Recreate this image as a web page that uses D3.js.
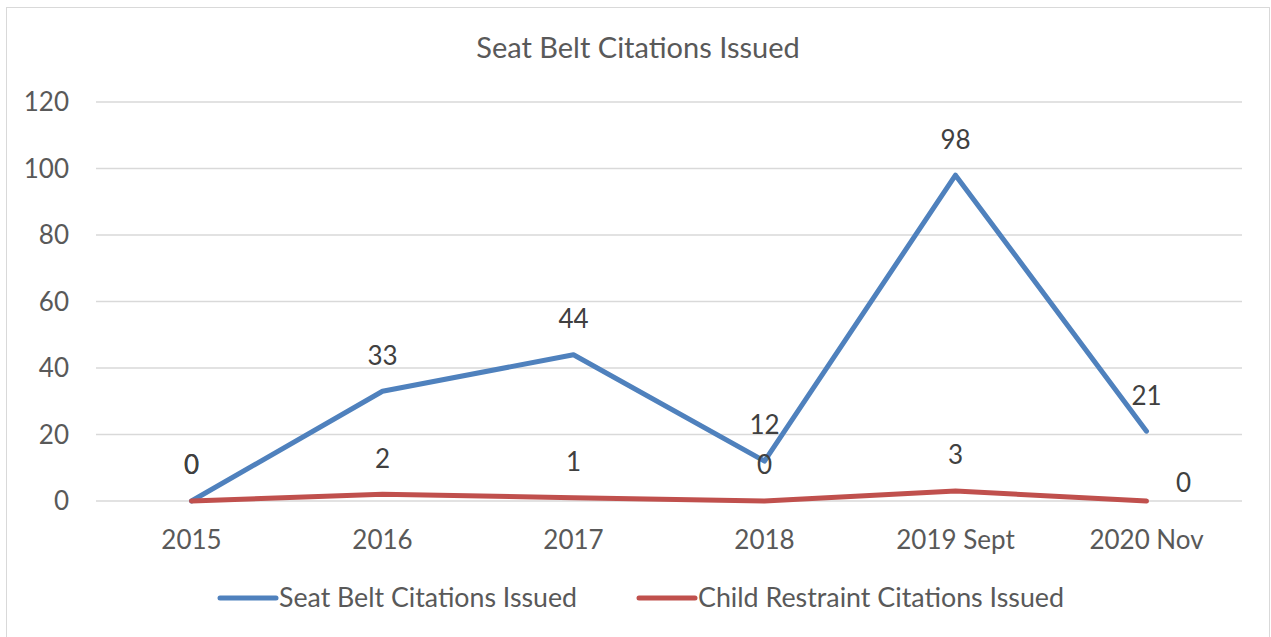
<!DOCTYPE html>
<html>
<head>
<meta charset="utf-8">
<script src="https://cdn.jsdelivr.net/npm/d3@7"></script>
<style>
  body { margin: 0; background: #fff; }
  text { font-family: Lato, "Open Sans", sans-serif; }
</style>
</head>
<body>
<div id="chart"></div>
<script>
const categories = ["2015", "2016", "2017", "2018", "2019 Sept", "2020 Nov"];
const seatBelt = [0, 33, 44, 12, 98, 21];
const childRestraint = [0, 2, 1, 0, 3, 0];
const yTicks = [0, 20, 40, 60, 80, 100, 120];
const seriesNames = ["Seat Belt Citations Issued", "Child Restraint Citations Issued"];
const colors = ["#4F81BD", "#C0504D"];

const width = 1271;
const height = 637;
const margin = {top: 102, right: 29, bottom: 136, left: 96};

const svg = d3.select("#chart")
              .append("svg")
              .attr("width", width)
              .attr("height", height)

// chart border
svg.append("rect")
   .attr("x", 6.5)
   .attr("y", 7.5)
   .attr("width", 1263)
   .attr("height", 640)
   .attr("fill", "none")
   .attr("stroke", "#d9d9d9")

const x = d3.scaleBand()
            .domain(categories)
            .range([margin.left, width - margin.right])

const y = d3.scaleLinear()
            .domain([0, 120])
            .range([height - margin.bottom, margin.top])

const cx = d => x(d) + x.bandwidth() / 2

// gridlines
svg.append("g")
   .selectAll("line")
   .data(yTicks)
   .enter()
   .append("line")
   .attr("x1", margin.left)
   .attr("x2", width - margin.right)
   .attr("y1", d => y(d))
   .attr("y2", d => y(d))
   .attr("stroke", "#d9d9d9")
   .attr("stroke-width", 1.3)

// y labels
svg.append("g")
   .selectAll("text")
   .data(yTicks)
   .enter()
   .append("text")
   .attr("x", 69)
   .attr("y", d => y(d))
   .attr("dy", "0.36em")
   .attr("text-anchor", "end")
   .attr("font-size", 26)
   .attr("fill", "#595959")
   .text(d => d)

// x labels
svg.append("g")
   .selectAll("text")
   .data(categories)
   .enter()
   .append("text")
   .attr("x", d => cx(d))
   .attr("y", 540)
   .attr("dy", "0.36em")
   .attr("text-anchor", "middle")
   .attr("font-size", 26)
   .attr("fill", "#595959")
   .text(d => d)

// title
svg.append("text")
   .attr("x", 638)
   .attr("y", 48)
   .attr("dy", "0.36em")
   .attr("text-anchor", "middle")
   .attr("font-size", 29)
   .attr("fill", "#595959")
   .text("Seat Belt Citations Issued")

const line = d3.line()
               .x((d, i) => cx(categories[i]))
               .y(d => y(d))

const allSeries = [seatBelt, childRestraint];

allSeries.forEach((vals, s) => {
  svg.append("path")
     .datum(vals)
     .attr("d", line)
     .attr("fill", "none")
     .attr("stroke", colors[s])
     .attr("stroke-width", 5)
     .attr("stroke-linejoin", "round")
     .attr("stroke-linecap", "round")
})

// data labels, above each point (last child label sits to the right)
allSeries.forEach((vals, s) => {
  svg.append("g")
     .selectAll("text")
     .data(vals)
     .enter()
     .append("text")
     .attr("x", (d, i) => (s === 1 && i === vals.length - 1) ? cx(categories[i]) + 37 : cx(categories[i]))
     .attr("y", (d, i) => (s === 1 && i === vals.length - 1) ? y(d) - 18 : y(d) - 36)
     .attr("dy", "0.36em")
     .attr("text-anchor", "middle")
     .attr("font-size", 26)
     .attr("fill", "#404040")
     .text(d => d)
})

// legend
const legend = svg.append("g")
const legendX = [220, 639];
const legendW = [298, 366];
const legendItems = legend.selectAll("g")
                          .data(seriesNames)
                          .enter()
                          .append("g")
                          .attr("transform", (d, i) => `translate(${legendX[i]},598)`)

legendItems.append("line")
           .attr("x1", 0)
           .attr("x2", 56)
           .attr("stroke", (d, i) => colors[i])
           .attr("stroke-width", 5)
           .attr("stroke-linecap", "round")

legendItems.append("text")
           .attr("x", 59)
           .attr("dy", "0.36em")
           .attr("font-size", 26)
           .attr("textLength", (d, i) => legendW[i])
           .attr("lengthAdjust", "spacingAndGlyphs")
           .attr("fill", "#595959")
           .text(d => d)
</script>
</body>
</html>
